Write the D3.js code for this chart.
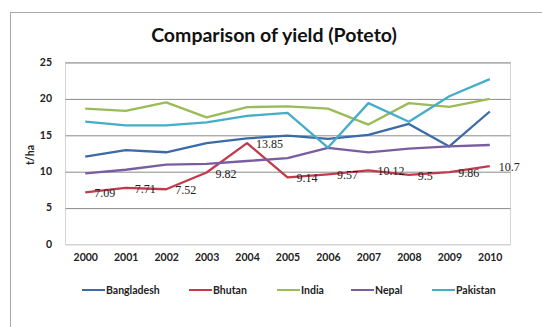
<!DOCTYPE html>
<html>
<head>
<meta charset="utf-8">
<script src="https://cdn.jsdelivr.net/npm/d3@7"></script>
<style>
  html, body { margin: 0; padding: 0; background: #fff; }
  svg { display: block; }
</style>
</head>
<body>
<svg id="chart" width="542" height="327"></svg>
<script>
// Potato yield (t/ha) by country, 2000-2010
const years = ["2000", "2001", "2002", "2003", "2004", "2005", "2006", "2007", "2008", "2009", "2010"];
const bangladesh = [12.0, 12.9, 12.6, 13.85, 14.5, 14.9, 14.45, 15.0, 16.5, 13.4, 18.2];
const bhutan = [7.09, 7.71, 7.52, 9.82, 13.85, 9.14, 9.57, 10.12, 9.5, 9.86, 10.7];
const india = [18.6, 18.3, 19.45, 17.4, 18.8, 18.9, 18.6, 16.4, 19.35, 18.85, 19.95];
const nepal = [9.7, 10.2, 10.9, 11.0, 11.4, 11.8, 13.2, 12.6, 13.1, 13.4, 13.6];
const pakistan = [16.8, 16.3, 16.3, 16.7, 17.6, 18.0, 13.25, 19.35, 16.8, 20.3, 22.65];
const seriesNames = ["Bangladesh", "Bhutan", "India", "Nepal", "Pakistan"];
const seriesColors = ["#3b6ba6", "#c03c4d", "#9bbb59", "#7a5ca0", "#45adc7"];
const yTicks = [0, 5, 10, 15, 20, 25];

const series = [bangladesh, bhutan, india, nepal, pakistan].map((values, i) => ({
  name: seriesNames[i], color: seriesColors[i], values
}));

const svg = d3.select("#chart");
const plot = { left: 65, right: 510, top: 62, bottom: 244 };
const font = "Lato, 'Open Sans', sans-serif";

// chart area frame
svg.append("rect")
  .attr("x", 10.5).attr("y", 12.5)
  .attr("width", 700).attr("height", 500)
  .attr("fill", "#fff").attr("stroke", "#a8a8a8").attr("stroke-width", 1);

const x = d3.scalePoint().domain(years).range([plot.left, plot.right]).padding(0.5);
const y = d3.scaleLinear().domain([0, 25]).range([plot.bottom, plot.top]);

// plot frame
svg.append("rect")
  .attr("x", plot.left + 0.5).attr("y", plot.top + 0.5)
  .attr("width", plot.right - plot.left).attr("height", plot.bottom - plot.top)
  .attr("fill", "none").attr("stroke", "#d4d4d4");

// horizontal gridlines + y axis labels
const yAxis = d3.axisLeft(y).tickValues(yTicks).tickSize(-(plot.right - plot.left)).tickPadding(13);
const gy = svg.append("g").attr("transform", `translate(${plot.left},0)`).call(yAxis);
gy.select(".domain").remove();
gy.selectAll(".tick line")
  .attr("stroke", d => d === 0 ? "#d4d4d4" : "#8a8a8a")
  .attr("transform", "translate(0.5,0.5)");
gy.selectAll(".tick text")
  .attr("font-family", font)
  .attr("font-weight", "bold").attr("font-size", 10.5).attr("fill", "#222");

// x axis labels
const xAxis = d3.axisBottom(x).tickSize(0).tickPadding(10);
const gx = svg.append("g").attr("transform", `translate(0,${plot.bottom})`).call(xAxis);
gx.select(".domain").remove();
gx.selectAll(".tick text")
  .attr("font-family", font)
  .attr("font-weight", "bold").attr("font-size", 10.5).attr("fill", "#222");

// y axis title
svg.append("text")
  .attr("transform", "translate(34,155) rotate(-90)")
  .attr("text-anchor", "middle")
  .attr("font-family", font)
  .attr("font-weight", "bold").attr("font-size", 10.5).attr("fill", "#222")
  .text("t/ha");

// series lines
const line = d3.line().x((d, i) => x(years[i])).y(d => y(d));
svg.append("g").selectAll("path").data(series).join("path")
  .attr("d", d => line(d.values))
  .attr("fill", "none")
  .attr("stroke", d => d.color)
  .attr("stroke-width", 2.3)
  .attr("stroke-linejoin", "round");

// Bhutan value labels
svg.append("g").selectAll("text").data(bhutan).join("text")
  .attr("x", (d, i) => x(years[i]) + 9)
  .attr("y", d => y(d) + 5)
  .attr("font-family", "'Liberation Serif', 'DejaVu Serif', serif")
  .attr("font-size", 12).attr("fill", "#222")
  .text(d => d);

// title
svg.append("text")
  .attr("x", 274).attr("y", 42)
  .attr("text-anchor", "middle")
  .attr("font-family", font)
  .attr("font-weight", "bold").attr("font-size", 19.5).attr("fill", "#111")
  .text("Comparison of yield (Poteto)");

// legend
const legendX = [82, 189, 277, 351, 432];
const lg = svg.append("g").selectAll("g").data(series).join("g")
  .attr("transform", (d, i) => `translate(${legendX[i]},290)`);
lg.append("line").attr("x1", 0).attr("x2", 23).attr("y1", 0).attr("y2", 0)
  .attr("stroke", d => d.color).attr("stroke-width", 2);
lg.append("text").attr("x", 24).attr("y", 4)
  .attr("font-family", font)
  .attr("font-weight", "bold").attr("font-size", 10.5).attr("fill", "#222")
  .text(d => d.name);
</script>
</body>
</html>
